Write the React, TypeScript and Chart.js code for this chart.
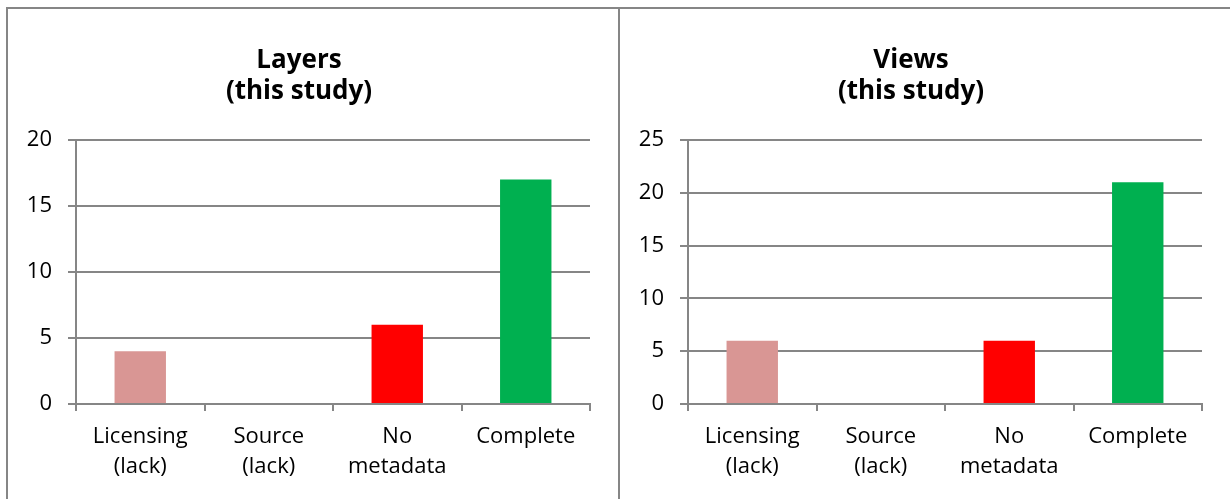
import React, { useEffect, useRef } from "react";
import { Chart, registerables } from "chart.js";

Chart.register(...registerables);

const categories: string[][] = [
  ["Licensing", "(lack)"],
  ["Source", "(lack)"],
  ["No", "metadata"],
  ["Complete"],
];
const barColors = ["#D99694", "#D99694", "#FF0000", "#00B050"];

const layersTitle = ["Layers", "(this study)"];
const layersValues = [4, 0, 6, 17];
const layersMax = 20;

const viewsTitle = ["Views", "(this study)"];
const viewsValues = [6, 0, 6, 21];
const viewsMax = 25;

const tickStep = 5;

const GRID = "#868686";
const FONT = "'Open Sans', 'Liberation Sans', sans-serif";

function BarPanel(props: { title: string[]; values: number[]; max: number }) {
  const ref = useRef<HTMLCanvasElement>(null);
  useEffect(() => {
    if (!ref.current) return;
    const chart = new Chart(ref.current, {
      type: "bar",
      data: {
        labels: categories,
        datasets: [
          {
            data: props.values,
            backgroundColor: barColors,
            borderWidth: 0,
            categoryPercentage: 1,
            barPercentage: 0.4,
          },
        ],
      },
      options: {
        animation: false,
        responsive: false,
        devicePixelRatio: 1,
        layout: { padding: { left: 0, right: 28, top: 0, bottom: 0 } },
        plugins: {
          legend: { display: false },
          tooltip: { enabled: false },
          title: {
            display: true,
            text: props.title,
            color: "#000",
            font: { family: FONT, size: 26, weight: "bold", lineHeight: 31 / 26 },
            padding: { top: 36, bottom: 33 },
          },
        },
        scales: {
          x: {
            grid: {
              display: true,
              drawOnChartArea: false,
              drawTicks: true,
              tickLength: 7,
              color: GRID,
              lineWidth: 2,
              offset: true,
            },
            border: { display: true, color: GRID, width: 2 },
            ticks: {
              color: "#000",
              font: { family: FONT, size: 22, lineHeight: 30 / 22 },
              padding: 11,
              maxRotation: 0,
              autoSkip: false,
            },
            afterFit: (scale: any) => {
              scale.height = 95;
            },
          },
          y: {
            min: 0,
            max: props.max,
            grid: {
              color: GRID,
              lineWidth: 2,
              drawTicks: true,
              tickLength: 8,
            },
            border: { display: true, color: GRID, width: 2 },
            ticks: {
              stepSize: tickStep,
              color: "#000",
              font: { family: FONT, size: 22 },
              padding: 16,
            },
            afterFit: (scale: any) => {
              scale.width = 68;
            },
          },
        },
      },
    });
    return () => chart.destroy();
  }, [props.title, props.values, props.max]);
  return (
    <canvas
      ref={ref}
      width={610}
      height={490}
      style={{ display: "block", width: 610, height: 490 }}
    />
  );
}

export default function App() {
  return (
    <div
      style={{
        position: "fixed",
        left: 0,
        top: 0,
        width: 1230,
        height: 499,
        overflow: "hidden",
        background: "#fff",
      }}
    >
      <div
        style={{
          position: "absolute",
          left: 6,
          top: 7,
          width: 614,
          height: 520,
          boxSizing: "border-box",
          borderTop: `2px solid ${GRID}`,
          borderLeft: `2px solid ${GRID}`,
          borderRight: `2px solid ${GRID}`,
        }}
      >
        <BarPanel title={layersTitle} values={layersValues} max={layersMax} />
      </div>
      <div
        style={{
          position: "absolute",
          left: 620,
          top: 7,
          width: 640,
          height: 520,
          boxSizing: "border-box",
          borderTop: `2px solid ${GRID}`,
        }}
      >
        <BarPanel title={viewsTitle} values={viewsValues} max={viewsMax} />
      </div>
    </div>
  );
}
